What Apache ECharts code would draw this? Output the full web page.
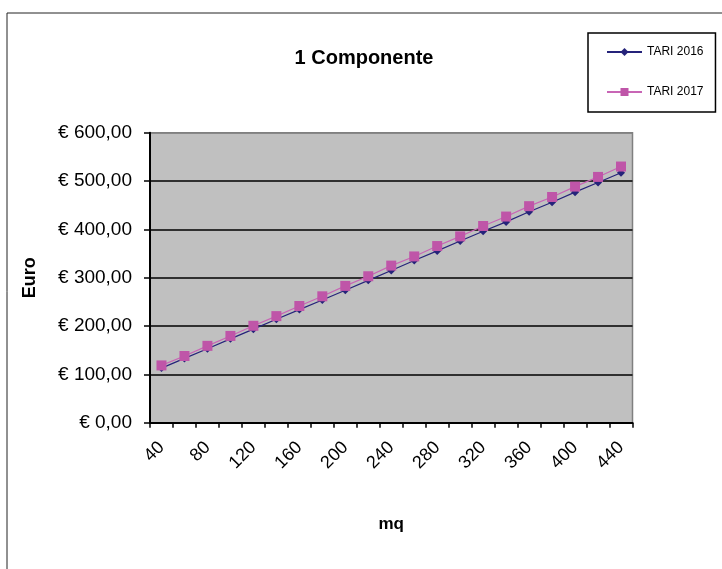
<!DOCTYPE html>
<html>
<head>
<meta charset="utf-8">
<style>
  html, body { margin: 0; padding: 0; background: #fff; }
  #chart { width: 722px; height: 569px; }
</style>
<script src="https://cdn.jsdelivr.net/npm/echarts@6/dist/echarts.min.js"></script>
</head>
<body>
<div id="chart"></div>
<script>
// Surface (mq) categories
const superfici = ['40','60','80','100','120','140','160','180','200','220','240',
                   '260','280','300','320','340','360','380','400','420','440'];

// Annual tariff, one component (euro)
const tari2016 = [113, 133, 153, 173.5, 193.5, 214, 234, 254, 274, 294.5, 315,
                  335.5, 355.5, 376, 396, 415.5, 436.5, 456, 477, 497, 517];
const tari2017 = [118.5, 138, 159, 179.5, 200.5, 220.5, 241.5, 261.5, 283, 303, 325,
                  344, 365.5, 385.5, 407, 426.5, 448, 467, 488.5, 508.5, 530];

// Value axis ticks
const yMin = 0, yMax = 600, yStep = 100;

const FONT = "'Liberation Sans', Arial, sans-serif";

function euro(v) {
  return '€ ' + v.toFixed(2).replace('.', ',');
}

const chart = echarts.init(document.getElementById('chart'), null, { renderer: 'canvas' });

chart.setOption({
  animation: false,
  backgroundColor: '#ffffff',
  textStyle: { fontFamily: FONT },
  graphic: [{
    type: 'rect',
    shape: { x: 7, y: 13, width: 760, height: 600 },
    style: { fill: 'none', stroke: '#222', lineWidth: 1 },
    silent: true,
    z: -1
  }],
  title: {
    text: '1 Componente',
    left: 359,
    textAlign: 'center',
    top: 43,
    textStyle: { fontFamily: FONT, fontSize: 20, fontWeight: 'bold', color: '#000' }
  },
  legend: {
    orient: 'vertical',
    left: 588,
    top: 33,
    padding: [12, 12, 13, 18],
    itemGap: 26,
    itemWidth: 35,
    itemHeight: 10,
    borderColor: '#000',
    borderWidth: 1.5,
    textStyle: { fontFamily: FONT, fontSize: 12, color: '#000', lineHeight: 14 },
    data: ['TARI 2016', 'TARI 2017']
  },
  grid: {
    left: 150,
    right: 89.5,
    top: 132.7,
    bottom: 146.3,
    show: true,
    backgroundColor: '#C0C0C0',
    borderColor: '#808080',
    borderWidth: 1.5
  },
  xAxis: {
    type: 'category',
    data: superfici,
    boundaryGap: true,
    name: 'mq',
    nameLocation: 'middle',
    nameGap: 93,
    nameTextStyle: { fontFamily: FONT, fontSize: 17, fontWeight: 'bold', color: '#000' },
    axisLine: { show: true, lineStyle: { color: '#000', width: 2 } },
    axisTick: { show: true, interval: 0, length: 5, lineStyle: { color: '#000', width: 1.5 } },
    axisLabel: {
      interval: 1,
      rotate: 45,
      margin: 22,
      fontFamily: FONT,
      fontSize: 18,
      color: '#000'
    },
    splitLine: { show: false }
  },
  yAxis: {
    type: 'value',
    min: yMin,
    max: yMax,
    interval: yStep,
    name: 'Euro',
    nameLocation: 'middle',
    nameRotate: 90,
    nameGap: 111,
    nameTextStyle: { fontFamily: FONT, fontSize: 18, fontWeight: 'bold', color: '#000' },
    axisLine: { show: true, lineStyle: { color: '#000', width: 2 } },
    axisTick: { show: true, length: 6, lineStyle: { color: '#000', width: 1.5 } },
    axisLabel: {
      margin: 18,
      fontFamily: FONT,
      fontSize: 19,
      color: '#000',
      formatter: euro
    },
    splitLine: {
      show: true,
      lineStyle: { color: ['#000', '#000', '#000', '#000', '#000', '#000', '#808080'], width: 1.5 }
    }
  },
  series: [
    {
      name: 'TARI 2016',
      type: 'line',
      data: tari2016,
      symbol: 'diamond',
      symbolSize: 8,
      itemStyle: { color: '#25237A' },
      lineStyle: { color: '#25237A', width: 1.2 },
      z: 2
    },
    {
      name: 'TARI 2017',
      type: 'line',
      data: tari2017,
      symbol: 'rect',
      symbolSize: 10,
      itemStyle: { color: '#BF55A8' },
      lineStyle: { color: '#C865B5', width: 1.2 },
      z: 3
    }
  ]
});
</script>
</body>
</html>
